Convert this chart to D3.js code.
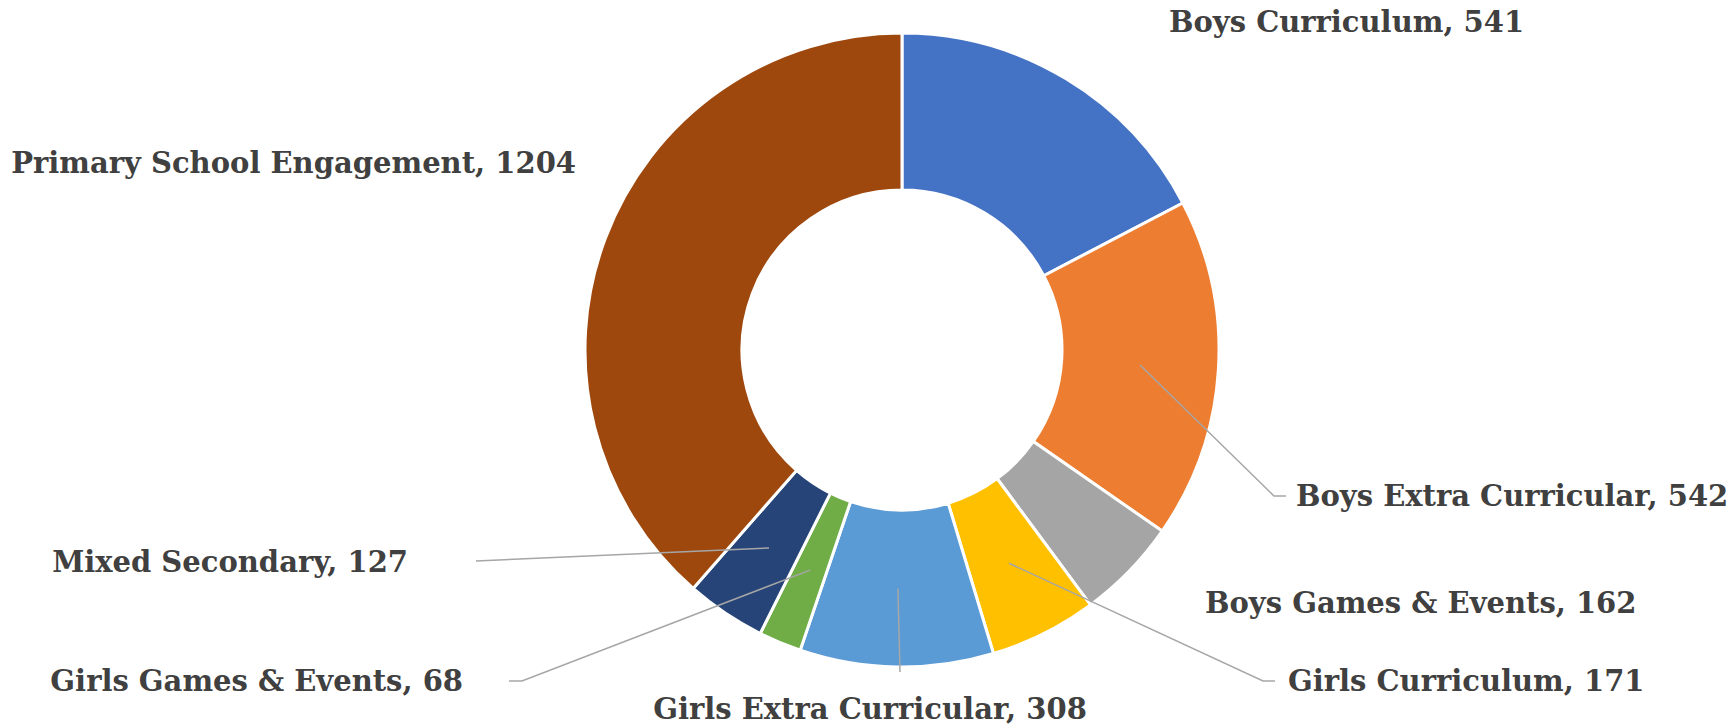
<!DOCTYPE html>
<html>
<head>
<meta charset="utf-8">
<script src="https://cdn.jsdelivr.net/npm/d3@7"></script>
<style>
  html, body { margin: 0; padding: 0; background: #ffffff; }
  svg { display: block; }
  .lbl { font-family: "DejaVu Serif", serif; font-weight: bold; fill: #404040; }
</style>
</head>
<body>
<svg id="chart" width="1729" height="727"></svg>
<script>
// ---- data ----
const categories = [
  "Boys Curriculum",
  "Boys Extra Curricular",
  "Boys Games & Events",
  "Girls Curriculum",
  "Girls Extra Curricular",
  "Girls Games & Events",
  "Mixed Secondary",
  "Primary School Engagement"
];
const values = [541, 542, 162, 171, 308, 68, 127, 1204];
const colors = ["#4472C4", "#ED7D31", "#A5A5A5", "#FFC000", "#5B9BD5", "#70AD47", "#264478", "#9E480E"];

// ---- layout (label placement, not data) ----
const labelLayout = [
  { anchor: "start",  x: 1169, y: 22,  elbow: null },
  { anchor: "start",  x: 1296, y: 496, elbow: [1274, 496], end: [1286, 496] },
  { anchor: "start",  x: 1205, y: 603, elbow: null },
  { anchor: "start",  x: 1288, y: 681, elbow: [1263, 681], end: [1275, 681] },
  { anchor: "middle", x: 870,  y: 709, elbow: null, end: [900, 672] },
  { anchor: "end",    x: 463,  y: 681, elbow: [522, 681], end: [509, 681] },
  { anchor: "end",    x: 408,  y: 562, elbow: null, end: [476, 561] },
  { anchor: "end",    x: 576,  y: 163, elbow: null }
];

const cx = 902, cy = 350;
const outerR = 317, innerR = 160;

const svg = d3.select("#chart");
const g = svg.append("g").attr("transform", `translate(${cx},${cy})`);

const data = categories.map((c, i) => ({ name: c, value: values[i], color: colors[i], layout: labelLayout[i] }));

const pie = d3.pie().value(d => d.value).sort(null).startAngle(0).endAngle(2 * Math.PI);
const arc = d3.arc().innerRadius(innerR).outerRadius(outerR);
const arcs = pie(data);

g.selectAll("path.slice")
  .data(arcs)
  .join("path")
  .attr("class", "slice")
  .attr("d", arc)
  .attr("fill", d => d.data.color)
  .attr("stroke", "#ffffff")
  .attr("stroke-width", 3)
  .attr("stroke-linejoin", "miter");

// leader lines
const lineGen = d3.line();
arcs.forEach(a => {
  const L = a.data.layout;
  if (!L.end) return;
  const c = arc.centroid(a);
  const pts = [[c[0] + cx, c[1] + cy]];
  if (L.elbow) pts.push(L.elbow);
  pts.push(L.end);
  svg.append("path")
    .attr("d", lineGen(pts))
    .attr("fill", "none")
    .attr("stroke", "#A6A6A6")
    .attr("stroke-width", 1.5);
});

// labels
svg.selectAll("text.lbl")
  .data(arcs)
  .join("text")
  .attr("class", "lbl")
  .attr("x", d => d.data.layout.x)
  .attr("y", d => d.data.layout.y)
  .attr("dy", "0.36em")
  .attr("text-anchor", d => d.data.layout.anchor)
  .attr("font-size", 29)
  .text(d => `${d.data.name}, ${d.data.value}`);
</script>
</body>
</html>
